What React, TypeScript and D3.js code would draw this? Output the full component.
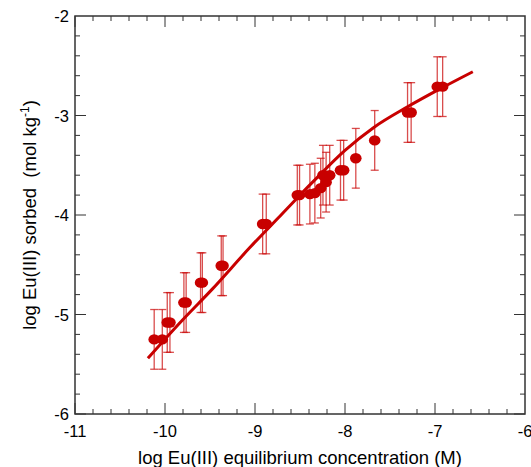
import React from "react";
import * as d3 from "d3";

const obsX = [-10.12, -10.03, -9.975, -9.945, -9.79, -9.765, -9.605, -9.585, -9.375, -9.355, -8.915, -8.875, -8.53, -8.505, -8.39, -8.335, -8.27, -8.245, -8.21, -8.17, -8.05, -8.015, -7.88, -7.67, -7.305, -7.265, -6.975, -6.915];
const obsY = [-5.25, -5.25, -5.08, -5.08, -4.88, -4.88, -4.68, -4.68, -4.51, -4.51, -4.09, -4.09, -3.8, -3.8, -3.79, -3.78, -3.73, -3.6, -3.67, -3.6, -3.55, -3.55, -3.43, -3.25, -2.97, -2.97, -2.71, -2.71];
const obsErr = [0.3, 0.3, 0.3, 0.3, 0.3, 0.3, 0.3, 0.3, 0.3, 0.3, 0.3, 0.3, 0.3, 0.3, 0.3, 0.3, 0.3, 0.3, 0.3, 0.3, 0.3, 0.3, 0.3, 0.3, 0.3, 0.3, 0.3, 0.3];

const fitX = [-10.19, -9.8, -9.48, -9.06, -8.7, -8.36, -8.0, -7.68, -7.3, -6.94, -6.58];
const fitY = [-5.44, -5.05, -4.75, -4.33, -3.99, -3.67, -3.35, -3.12, -2.91, -2.73, -2.56];

const xTicks = [-11, -10, -9, -8, -7, -6];
const yTicks = [-6, -5, -4, -3, -2];

const W = 531, H = 467;
const L = 75, R = 525, T = 16, B = 414;
const RED = "#c80000";

export default function App() {
  const x = d3.scaleLinear().domain([-11, -6]).range([L, R]);
  const y = d3.scaleLinear().domain([-6, -2]).range([B, T]);
  const minorX = d3.range(-11, -6.0001, 0.2).map((v) => +v.toFixed(2));
  const minorY = d3.range(-6, -2.0001, 0.2).map((v) => +v.toFixed(2));
  const isMajor = (v: number) => Math.abs(v - Math.round(v)) < 1e-6;
  const line = d3
    .line<number>()
    .x((_, i) => x(fitX[i]))
    .y((_, i) => y(fitY[i]))
    .curve(d3.curveMonotoneX);
  const font = "'Liberation Sans', Arial, sans-serif";
  const axisCol = "#333";

  return (
    <svg width={W} height={H} style={{ position: "absolute", left: 0, top: 0, background: "#fff" }} fontFamily={font}>
      {minorX.map((v, i) => {
        const len = isMajor(v) ? 11 : 5;
        return (
          <g key={"tx" + i} stroke={axisCol} strokeWidth={1}>
            <line x1={x(v)} x2={x(v)} y1={B} y2={B - len} />
            <line x1={x(v)} x2={x(v)} y1={T} y2={T + len} />
          </g>
        );
      })}
      {minorY.map((v, i) => {
        const len = isMajor(v) ? 11 : 5;
        return (
          <g key={"ty" + i} stroke={axisCol} strokeWidth={1}>
            <line x1={L} x2={L + len} y1={y(v)} y2={y(v)} />
            <line x1={R} x2={R - len} y1={y(v)} y2={y(v)} />
          </g>
        );
      })}
      <rect x={L} y={T} width={R - L} height={B - T} fill="none" stroke={axisCol} strokeWidth={1.5} />
      {xTicks.map((v) => (
        <text key={"xl" + v} x={x(v)} y={437} fontSize={16.5} textAnchor="middle" fill="#000">
          {v}
        </text>
      ))}
      {yTicks.map((v) => (
        <text key={"yl" + v} x={69} y={y(v) + 6} fontSize={16.5} textAnchor="end" fill="#000">
          {v}
        </text>
      ))}
      <text x={(L + R) / 2} y={464} fontSize={18.5} textAnchor="middle" fill="#000">
        log Eu(III) equilibrium concentration (M)
      </text>
      <text transform={`translate(36, ${(T + B) / 2}) rotate(-90)`} fontSize={18.5} textAnchor="middle" fill="#000" xmlSpace="preserve">
        log Eu(III) sorbed{"  "}(mol kg
        <tspan dy={-7} fontSize={12}>-1</tspan>
        <tspan dy={7}>)</tspan>
      </text>
      {obsX.map((v, i) => {
        const cx = x(v);
        const y1 = y(obsY[i] + obsErr[i]);
        const y2 = y(obsY[i] - obsErr[i]);
        return (
          <g key={"e" + i} stroke="#cc1111" strokeOpacity={0.75} strokeWidth={1.3}>
            <line x1={cx} x2={cx} y1={y1} y2={y2} />
            <line x1={cx - 4} x2={cx + 4} y1={y1} y2={y1} />
            <line x1={cx - 4} x2={cx + 4} y1={y2} y2={y2} />
          </g>
        );
      })}
      <path d={line(fitX) || ""} fill="none" stroke={RED} strokeWidth={3} />
      {obsX.map((v, i) => (
        <ellipse key={"p" + i} cx={x(v)} cy={y(obsY[i])} rx={5.8} ry={5.2} fill={RED} />
      ))}
    </svg>
  );
}
